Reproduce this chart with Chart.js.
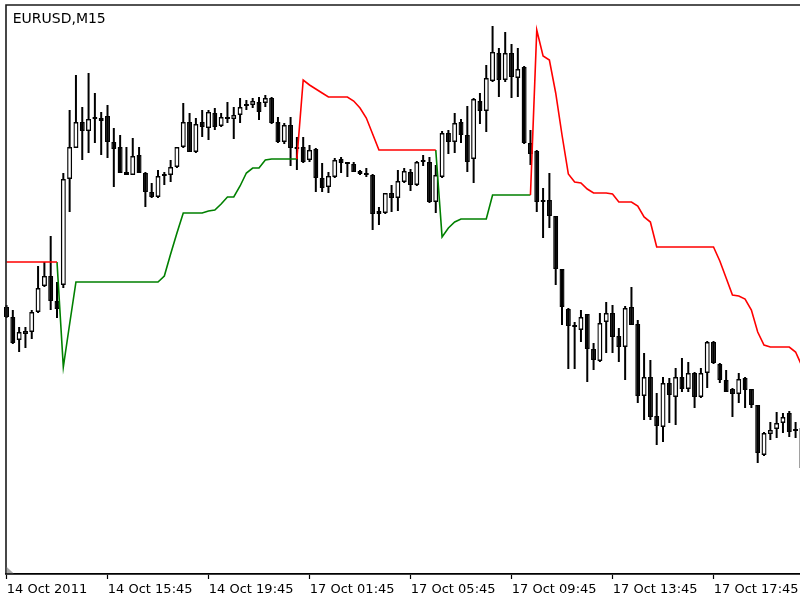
<!DOCTYPE html>
<html>
<head>
<meta charset="utf-8">
<script src="https://cdn.jsdelivr.net/npm/chart.js@4/dist/chart.umd.min.js"></script>
<style>
html, body { margin: 0; padding: 0; background: #ffffff; }
canvas { display: block; }
</style>
</head>
<body>
<canvas id="chart" width="800" height="600"></canvas>
<script>
const chartTitle = 'EURUSD,M15';
const tickBars = [0, 16, 32, 48, 64, 80, 96, 112];
const tickLabels = ['14 Oct 2011', '14 Oct 15:45', '14 Oct 19:45', '17 Oct 01:45',
                    '17 Oct 05:45', '17 Oct 09:45', '17 Oct 13:45', '17 Oct 17:45'];

const open = [
  1.37465, 1.37415, 1.37300, 1.37330, 1.37340, 1.37440, 1.37570, 1.37620, 1.37495, 1.37575,
  1.38105, 1.38260, 1.38390, 1.38345, 1.38415, 1.38410, 1.38420, 1.38290, 1.38265, 1.38140,
  1.38125, 1.38225, 1.38135, 1.38040, 1.38015, 1.38120, 1.38125, 1.38165, 1.38265, 1.38390,
  1.38240, 1.38390, 1.38360, 1.38435, 1.38370, 1.38405, 1.38405, 1.38425, 1.38480, 1.38475,
  1.38490, 1.38485, 1.38510, 1.38390, 1.38290, 1.38375, 1.38265, 1.38265, 1.38200, 1.38255,
  1.38110, 1.38065, 1.38115, 1.38205, 1.38185, 1.38180, 1.38145, 1.38130, 1.38125, 1.37930,
  1.37935, 1.38035, 1.38010, 1.38090, 1.38140, 1.38075, 1.38190, 1.38190, 1.37990, 1.38115,
  1.38335, 1.38290, 1.38390, 1.38325, 1.38205, 1.38495, 1.38445, 1.38595, 1.38735, 1.38600,
  1.38735, 1.38610, 1.38665, 1.38285, 1.38245, 1.37995, 1.38000, 1.37920, 1.37655, 1.37455,
  1.37370, 1.37350, 1.37430, 1.37255, 1.37195, 1.37390, 1.37435, 1.37320, 1.37265, 1.37465,
  1.37380, 1.37020, 1.37115, 1.36920, 1.36865, 1.37085, 1.37015, 1.37115, 1.37055, 1.37135,
  1.37015, 1.37135, 1.37290, 1.37180, 1.37100, 1.37055, 1.37030, 1.37110, 1.37055, 1.36975,
  1.36725, 1.36830, 1.36855, 1.36885, 1.36935, 1.36850, 1.36860
];
const high = [
  1.37475, 1.37450, 1.37365, 1.37365, 1.37450, 1.37670, 1.37690, 1.37820, 1.37590, 1.38135,
  1.38450, 1.38625, 1.38465, 1.38635, 1.38535, 1.38440, 1.38475, 1.38360, 1.38325, 1.38265,
  1.38310, 1.38265, 1.38140, 1.38085, 1.38150, 1.38140, 1.38200, 1.38265, 1.38485, 1.38435,
  1.38410, 1.38450, 1.38450, 1.38460, 1.38435, 1.38490, 1.38465, 1.38510, 1.38500, 1.38510,
  1.38515, 1.38525, 1.38515, 1.38415, 1.38385, 1.38415, 1.38315, 1.38315, 1.38275, 1.38260,
  1.38185, 1.38140, 1.38210, 1.38215, 1.38190, 1.38190, 1.38150, 1.38160, 1.38130, 1.37965,
  1.38035, 1.38075, 1.38150, 1.38160, 1.38155, 1.38195, 1.38225, 1.38215, 1.38175, 1.38345,
  1.38350, 1.38435, 1.38405, 1.38470, 1.38510, 1.38535, 1.38675, 1.38870, 1.38760, 1.38840,
  1.38780, 1.38760, 1.38670, 1.38350, 1.38250, 1.38060, 1.38135, 1.37920, 1.37655, 1.37460,
  1.37390, 1.37450, 1.37430, 1.37285, 1.37435, 1.37490, 1.37475, 1.37360, 1.37470, 1.37565,
  1.37400, 1.37235, 1.37200, 1.37035, 1.37115, 1.37110, 1.37160, 1.37210, 1.37190, 1.37140,
  1.37160, 1.37295, 1.37295, 1.37185, 1.37150, 1.37060, 1.37135, 1.37115, 1.37055, 1.36975,
  1.36840, 1.36890, 1.36940, 1.36935, 1.36945, 1.36890, 1.36875
];
const low = [
  1.37410, 1.37280, 1.37240, 1.37260, 1.37305, 1.37435, 1.37565, 1.37450, 1.37410, 1.37560,
  1.37940, 1.38260, 1.38200, 1.38235, 1.38285, 1.38225, 1.38210, 1.38065, 1.38135, 1.38125,
  1.38125, 1.38135, 1.37965, 1.38010, 1.38010, 1.38075, 1.38090, 1.38160, 1.38260, 1.38240,
  1.38235, 1.38315, 1.38300, 1.38350, 1.38365, 1.38385, 1.38305, 1.38385, 1.38450, 1.38460,
  1.38400, 1.38465, 1.38380, 1.38285, 1.38280, 1.38170, 1.38150, 1.38185, 1.38190, 1.38040,
  1.38040, 1.38035, 1.38110, 1.38135, 1.38115, 1.38140, 1.38125, 1.38115, 1.37850, 1.37875,
  1.37930, 1.37940, 1.37945, 1.38085, 1.38045, 1.38070, 1.38170, 1.37985, 1.37935, 1.38110,
  1.38230, 1.38235, 1.38285, 1.38140, 1.38085, 1.38380, 1.38340, 1.38590, 1.38515, 1.38590,
  1.38510, 1.38515, 1.38280, 1.38175, 1.37940, 1.37810, 1.37860, 1.37575, 1.37375, 1.37155,
  1.37155, 1.37290, 1.37090, 1.37150, 1.37190, 1.37235, 1.37235, 1.37190, 1.37100, 1.37375,
  1.36985, 1.36900, 1.36900, 1.36775, 1.36790, 1.36885, 1.36875, 1.37040, 1.37040, 1.36960,
  1.37010, 1.37060, 1.37180, 1.37085, 1.37040, 1.36915, 1.36985, 1.36960, 1.36960, 1.36685,
  1.36720, 1.36800, 1.36810, 1.36835, 1.36815, 1.36810, 1.36640
];
const close = [
  1.37415, 1.37285, 1.37340, 1.37345, 1.37440, 1.37560, 1.37620, 1.37495, 1.37455, 1.38105,
  1.38265, 1.38390, 1.38345, 1.38405, 1.38405, 1.38395, 1.38290, 1.38255, 1.38135, 1.38125,
  1.38220, 1.38135, 1.38040, 1.38015, 1.38120, 1.38125, 1.38165, 1.38265, 1.38390, 1.38240,
  1.38380, 1.38365, 1.38440, 1.38365, 1.38415, 1.38410, 1.38425, 1.38465, 1.38470, 1.38495,
  1.38440, 1.38510, 1.38385, 1.38290, 1.38375, 1.38260, 1.38255, 1.38190, 1.38250, 1.38110,
  1.38060, 1.38120, 1.38200, 1.38185, 1.38180, 1.38140, 1.38130, 1.38125, 1.37930, 1.37945,
  1.38035, 1.38010, 1.38095, 1.38145, 1.38075, 1.38190, 1.38195, 1.37990, 1.38125, 1.38335,
  1.38290, 1.38385, 1.38325, 1.38190, 1.38505, 1.38445, 1.38610, 1.38740, 1.38600, 1.38735,
  1.38615, 1.38655, 1.38285, 1.38230, 1.37990, 1.37990, 1.37920, 1.37655, 1.37465, 1.37370,
  1.37365, 1.37415, 1.37255, 1.37200, 1.37385, 1.37435, 1.37315, 1.37265, 1.37460, 1.37375,
  1.37020, 1.37115, 1.36915, 1.36870, 1.37085, 1.37025, 1.37115, 1.37055, 1.37135, 1.37015,
  1.37135, 1.37290, 1.37185, 1.37100, 1.37040, 1.37030, 1.37105, 1.37050, 1.36975, 1.36735,
  1.36835, 1.36850, 1.36885, 1.36915, 1.36840, 1.36845, 1.36660
];
// trailing stop above price (red) and below price (green); null where the line is off
const upperStop = [
  1.37690, 1.37690, 1.37690, 1.37690, 1.37690, 1.37690, 1.37690, 1.37690, 1.37690, null,
  null, null, null, null, null, null, null, null, null, null,
  null, null, null, null, null, null, null, null, null, null,
  null, null, null, null, null, null, null, null, null, null,
  null, null, null, null, null, null, 1.38205, 1.38600, 1.38575, 1.38555,
  1.38535, 1.38515, 1.38515, 1.38515, 1.38515, 1.38495, 1.38460, 1.38410, 1.38330, 1.38250,
  1.38250, 1.38250, 1.38250, 1.38250, 1.38250, 1.38250, 1.38250, 1.38250, 1.38250, null,
  null, null, null, null, null, null, null, null, null, null,
  null, null, null, 1.38025, 1.38850, 1.38720, 1.38700, 1.38535, 1.38325, 1.38130,
  1.38090, 1.38085, 1.38055, 1.38035, 1.38035, 1.38035, 1.38030, 1.37990, 1.37990, 1.37990,
  1.37970, 1.37915, 1.37890, 1.37765, 1.37765, 1.37765, 1.37765, 1.37765, 1.37765, 1.37765,
  1.37765, 1.37765, 1.37765, 1.37695, 1.37610, 1.37525, 1.37520, 1.37505, 1.37450, 1.37340,
  1.37275, 1.37265, 1.37265, 1.37265, 1.37265, 1.37240, 1.37170
];
const lowerStop = [
  null, null, null, null, null, null, null, null, 1.37690, 1.37165,
  1.37380, 1.37590, 1.37590, 1.37590, 1.37590, 1.37590, 1.37590, 1.37590, 1.37590, 1.37590,
  1.37590, 1.37590, 1.37590, 1.37590, 1.37590, 1.37620, 1.37730, 1.37835, 1.37935, 1.37935,
  1.37935, 1.37935, 1.37945, 1.37950, 1.37980, 1.38015, 1.38015, 1.38070, 1.38135, 1.38160,
  1.38160, 1.38200, 1.38205, 1.38205, 1.38205, 1.38205, 1.38205, null, null, null,
  null, null, null, null, null, null, null, null, null, null,
  null, null, null, null, null, null, null, null, 1.38250, 1.37815,
  1.37860, 1.37890, 1.37905, 1.37905, 1.37905, 1.37905, 1.37905, 1.38025, 1.38025, 1.38025,
  1.38025, 1.38025, 1.38025, 1.38025, null, null, null, null, null, null,
  null, null, null, null, null, null, null, null, null, null,
  null, null, null, null, null, null, null, null, null, null,
  null, null, null, null, null, null, null, null, null, null,
  null, null, null, null, null, null, null
];

const idx = open.map((_, i) => i);
const wickData = idx.map(i => ({ x: i, y: [low[i], high[i]] }));
const bodyData = idx.map(i => ({ x: i, y: [open[i], close[i]] }));
const bodyFill = idx.map(i => (close[i] > open[i] ? '#ffffff' : '#000000'));
const upperData = idx.map(i => ({ x: i, y: upperStop[i] }));
const lowerData = idx.map(i => ({ x: i, y: lowerStop[i] }));

const framePlugin = {
  id: 'frame',
  afterDraw(chart) {
    const { ctx, chartArea: a } = chart;
    const xs = chart.scales.x;
    ctx.save();
    // frame (left and top edges)
    ctx.strokeStyle = '#1a1a1a';
    ctx.lineWidth = 1.6;
    ctx.beginPath();
    ctx.moveTo(a.left, a.bottom);
    ctx.lineTo(a.left, a.top);
    ctx.lineTo(a.right + 2, a.top);
    ctx.stroke();
    // chart shift marker
    ctx.fillStyle = '#a8a8a8';
    ctx.beginPath();
    ctx.moveTo(a.left + 0.8, a.bottom - 7);
    ctx.lineTo(a.left + 0.8, a.bottom - 0.8);
    ctx.lineTo(a.left + 7.5, a.bottom - 0.8);
    ctx.closePath();
    ctx.fill();
    // symbol title
    ctx.fillStyle = '#000000';
    ctx.font = '14px "DejaVu Sans"';
    ctx.textBaseline = 'alphabetic';
    ctx.textAlign = 'left';
    ctx.fillText(chartTitle, a.left + 6.7, a.top + 17.7);
    // time labels, left-aligned at their tick marks
    ctx.font = '13px "DejaVu Sans"';
    tickBars.forEach((b, i) => {
      ctx.fillText(tickLabels[i], xs.getPixelForValue(b) + 0.3, a.bottom + 19);
    });
    ctx.restore();
  }
};

Chart.defaults.font.family = '"DejaVu Sans"';

new Chart(document.getElementById('chart'), {
  type: 'bar',
  data: {
    datasets: [
      { type: 'line', label: 'Stop above', data: upperData, borderColor: '#ff0000', borderWidth: 1.6,
        pointRadius: 0, tension: 0, spanGaps: false, order: 0 },
      { type: 'line', label: 'Stop below', data: lowerData, borderColor: '#008000', borderWidth: 1.6,
        pointRadius: 0, tension: 0, spanGaps: false, order: 0 },
      { type: 'bar', label: 'Body', data: bodyData, backgroundColor: bodyFill, borderColor: '#000000',
        borderWidth: 1.4, borderSkipped: false, barThickness: 5, minBarLength: 2, grouped: false,
        inflateAmount: 0, order: 1, clip: false },
      { type: 'bar', label: 'Wick', data: wickData, backgroundColor: '#000000', borderWidth: 0,
        barThickness: 2, grouped: false, inflateAmount: 0, order: 2, clip: false }
    ]
  },
  options: {
    responsive: false,
    animation: false,
    devicePixelRatio: 1,
    events: [],
    layout: { padding: { left: 6, top: 5, right: 0, bottom: 0 } },
    plugins: { legend: { display: false }, tooltip: { enabled: false }, title: { display: false } },
    scales: {
      x: {
        type: 'linear',
        min: -0.08,
        max: 125.7,
        offset: false,
        bounds: 'data',
        afterBuildTicks: s => { s.ticks = tickBars.map(v => ({ value: v })); },
        afterFit: s => { s.height = 26; s.paddingLeft = 0; s.paddingRight = 0; },
        grid: { display: true, offset: false, drawOnChartArea: false, drawTicks: true, tickLength: 5,
                tickColor: '#000000', tickWidth: 1.2 },
        border: { display: true, color: '#000000', width: 1.8 },
        ticks: { display: false, autoSkip: false, maxRotation: 0, minRotation: 0,
                 callback: (v, i) => tickLabels[i] }
      },
      y: { display: false, min: 1.36130, max: 1.38975 }
    }
  },
  plugins: [framePlugin]
});
</script>
</body>
</html>
